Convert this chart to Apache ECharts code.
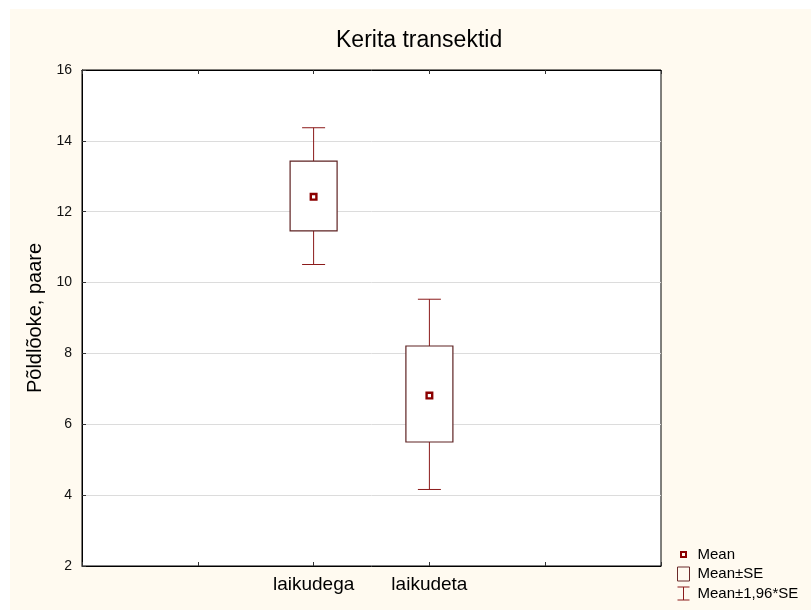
<!DOCTYPE html>
<html>
<head>
<meta charset="utf-8">
<script src="https://cdn.jsdelivr.net/npm/echarts@6/dist/echarts.min.js"></script>
<style>
  html, body { margin: 0; padding: 0; background: #fff; }
  #chart1 { width: 811px; height: 610px; }
</style>
</head>
<body>
<div id="chart1"></div>
<script>
// x slots: the two groups sit on the 3rd and 4th tick of a 5-interval axis
var categories = ['', '', 'laikudega', 'laikudeta', '', ''];
var groupIdx = [2, 3];
var means = [12.42, 6.81];
var seLow = [11.46, 5.50];
var seHigh = [13.43, 8.21];
var ciLow = [10.51, 4.16];
var ciHigh = [14.37, 9.53];

var boxData = [], ciData = [], meanData = [];
for (var i = 0; i < groupIdx.length; i++) {
    boxData.push([groupIdx[i], seLow[i], seHigh[i]]);
    ciData.push([groupIdx[i], ciLow[i], ciHigh[i], seLow[i], seHigh[i]]);
    meanData.push([groupIdx[i], means[i]]);
}

var chart = echarts.init(document.getElementById("chart1"));
chart.setOption({
    backgroundColor: '#ffffff',
    animation: false,
    textStyle: { fontFamily: 'Liberation Sans, Arial, sans-serif' },
    graphic: [{
        type: 'rect',
        z: -10,
        shape: { x: 10, y: 9, width: 801, height: 601 },
        style: { fill: '#FFFAF0' }
    }],
    title: {
        text: 'Kerita transektid',
        left: 331,
        top: 24,
        textStyle: { fontSize: 23, fontWeight: 'normal', color: '#000' }
    },
    legend: {
        orient: 'vertical',
        left: 677,
        top: 547,
        padding: 0,
        itemGap: 4.5,
        itemWidth: 12,
        itemHeight: 14,
        textStyle: { fontSize: 15, color: '#000', padding: [0, 0, 0, 3] },
        data: [
            { name: 'Mean', icon: 'path://M0,0M12,14M2.5,3.5H9.5V10.5H2.5Z M4.5,5.5V8.5H7.5V5.5Z', itemStyle: { color: '#8B0000' } },
            { name: 'Mean±SE', icon: 'rect', itemStyle: { color: 'rgba(0,0,0,0)', borderColor: '#6b2a2a', borderWidth: 1 } },
            { name: 'Mean±1,96*SE', icon: 'path://M0,0H12V1H6.5V13H12V14H0V13H5.5V1H0Z', itemStyle: { color: '#8b1a1a' } }
        ]
    },
    grid: {
        left: 82,
        right: 150,
        top: 70,
        bottom: 44,
        show: true,
        backgroundColor: '#ffffff',
        borderColor: '#000',
        borderWidth: 1
    },
    xAxis: [{
        type: 'category',
        data: categories,
        boundaryGap: false,
        axisLine: { lineStyle: { color: '#000' } },
        axisTick: { inside: true, length: 4, interval: 0, lineStyle: { color: '#333' } },
        axisLabel: { interval: 0, fontSize: 19, color: '#000', margin: 9 },
        splitLine: { show: false }
    }, {
        type: 'category',
        data: categories,
        position: 'top',
        boundaryGap: false,
        axisLine: { lineStyle: { color: '#000' } },
        axisTick: { inside: true, length: 4, interval: 0, lineStyle: { color: '#333' } },
        axisLabel: { show: false },
        splitLine: { show: false }
    }],
    yAxis: {
        type: 'value',
        min: 2,
        max: 16,
        interval: 2,
        name: 'Põldlõoke, paare',
        nameLocation: 'middle',
        nameGap: 37,
        nameTextStyle: { fontSize: 20, color: '#000' },
        axisLine: { show: true, lineStyle: { color: '#000' } },
        axisTick: { show: true, inside: true, length: 4, lineStyle: { color: '#333' } },
        axisLabel: { fontSize: 14, color: '#111', margin: 10 },
        splitLine: { lineStyle: { color: '#dcdcdc' } }
    },
    series: [
        {
            name: 'Mean±1,96*SE',
            type: 'custom',
            z: 2,
            renderItem: function (params, api) {
                var x = api.value(0);
                var lo = api.coord([x, api.value(1)]);
                var hi = api.coord([x, api.value(2)]);
                var sl = api.coord([x, api.value(3)]);
                var sh = api.coord([x, api.value(4)]);
                var cap = 11.5;
                var st = { stroke: '#8b1a1a', lineWidth: 1 };
                return {
                    type: 'group',
                    children: [
                        { type: 'line', shape: { x1: hi[0], y1: hi[1], x2: sh[0], y2: sh[1] }, style: st },
                        { type: 'line', shape: { x1: lo[0], y1: lo[1], x2: sl[0], y2: sl[1] }, style: st },
                        { type: 'line', shape: { x1: hi[0] - cap, y1: hi[1], x2: hi[0] + cap, y2: hi[1] }, style: st },
                        { type: 'line', shape: { x1: lo[0] - cap, y1: lo[1], x2: lo[0] + cap, y2: lo[1] }, style: st }
                    ]
                };
            },
            encode: { x: 0, y: [1, 2] },
            data: ciData
        },
        {
            name: 'Mean±SE',
            type: 'custom',
            z: 3,
            renderItem: function (params, api) {
                var x = api.value(0);
                var lo = api.coord([x, api.value(1)]);
                var hi = api.coord([x, api.value(2)]);
                var w = 23.5;
                return {
                    type: 'rect',
                    shape: { x: hi[0] - w, y: hi[1], width: 2 * w, height: lo[1] - hi[1] },
                    style: { fill: '#fff', stroke: '#5e2222', lineWidth: 1.2 }
                };
            },
            encode: { x: 0, y: [1, 2] },
            data: boxData
        },
        {
            name: 'Mean',
            type: 'scatter',
            z: 4,
            symbol: 'path://M0,0H10V10H0Z M3,3V7H7V3Z',
            symbolSize: 8,
            itemStyle: { color: '#8B0000', opacity: 1 },
            data: meanData
        }
    ]
});
</script>
</body>
</html>
